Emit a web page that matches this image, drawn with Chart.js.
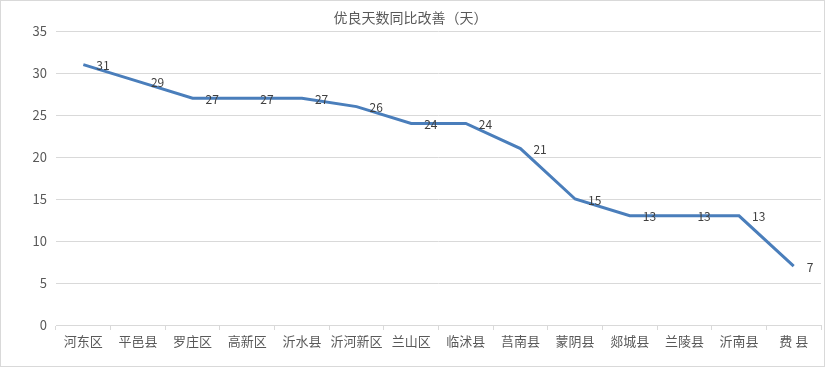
<!DOCTYPE html>
<html>
<head>
<meta charset="utf-8">
<script src="https://cdn.jsdelivr.net/npm/chart.js@4/dist/chart.umd.min.js"></script>
<style>
  body { margin: 0; background: #fff; }
  #wrap { width: 825px; height: 367px; position: relative; }
</style>
</head>
<body>
<div id="wrap"><canvas id="grafico" width="825" height="367"></canvas></div>
<script>
// dados
var titulo = '优良天数同比改善（天）';
var categorias = ['河东区', '平邑县', '罗庄区', '高新区', '沂水县', '沂河新区', '兰山区', '临沭县', '莒南县', '蒙阴县', '郯城县', '兰陵县', '沂南县', '费 县'];
var valores = [31, 29, 27, 27, 27, 26, 24, 24, 21, 15, 13, 13, 13, 7];
var ticksY = [0, 5, 10, 15, 20, 25, 30, 35];

var fonte = '"Noto Sans CJK SC", "Microsoft YaHei", sans-serif';

// rótulos de dados à direita de cada ponto
const rotulos = {
    id: 'rotulos',
    afterDatasetsDraw(chart) {
        const ctx = chart.ctx;
        const meta = chart.getDatasetMeta(0);
        ctx.save();
        ctx.font = '12px ' + fonte;
        ctx.fillStyle = '#404040';
        ctx.textAlign = 'left';
        ctx.textBaseline = 'middle';
        meta.data.forEach(function (p, i) {
            ctx.fillText(String(valores[i]), p.x + 13, p.y + 1);
        });
        ctx.restore();
    }
};

// borda do gráfico
const borda = {
    id: 'borda',
    afterDraw(chart) {
        const ctx = chart.ctx;
        ctx.save();
        ctx.strokeStyle = '#d9d9d9';
        ctx.lineWidth = 1;
        ctx.strokeRect(0.5, 0.5, chart.width - 1, chart.height - 1);
        ctx.restore();
    }
};

const ctx = document.getElementById('grafico');

new Chart(ctx, {
    type: 'line',
    data: {
        labels: categorias,
        datasets: [{
            data: valores,
            borderColor: '#4a7ebb',
            borderWidth: 3,
            pointRadius: 0,
            tension: 0,
            fill: false
        }]
    },
    options: {
        responsive: false,
        animation: false,
        layout: { padding: { left: 0, right: 4, top: 0, bottom: 0 } },
        plugins: {
            legend: { display: false },
            tooltip: { enabled: false },
            title: {
                display: true,
                text: titulo,
                color: '#595959',
                font: { family: fonte, size: 14, weight: 'normal', lineHeight: 1.2 },
                padding: { top: 9, bottom: 5.2 }
            }
        },
        scales: {
            x: {
                offset: true,
                grid: {
                    offset: true,
                    drawOnChartArea: false,
                    drawTicks: true,
                    tickLength: 5,
                    color: '#d9d9d9'
                },
                border: { color: '#d9d9d9' },
                ticks: {
                    color: '#595959',
                    font: { family: fonte, size: 13 },
                    maxRotation: 0,
                    autoSkip: false,
                    padding: 3
                },
                afterFit: function (scale) { scale.height = 42; }
            },
            y: {
                min: 0,
                max: 35,
                afterBuildTicks: function (scale) {
                    scale.ticks = ticksY.map(function (v) { return { value: v }; });
                },
                grid: { color: '#d9d9d9', drawTicks: false },
                border: { display: false },
                ticks: {
                    color: '#595959',
                    font: { family: fonte, size: 13 },
                    padding: 9
                },
                afterFit: function (scale) { scale.width = 56; }
            }
        }
    },
    plugins: [rotulos, borda]
});
</script>
</body>
</html>
